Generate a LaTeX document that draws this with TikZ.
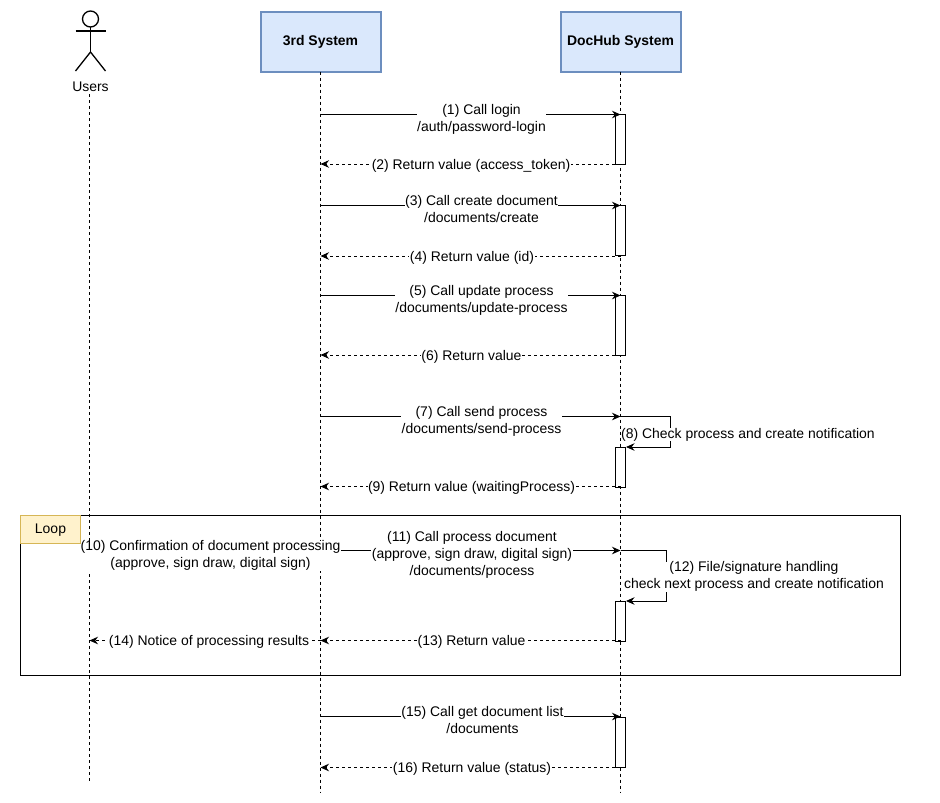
\documentclass[tikz,border=0pt]{standalone}
\usepackage{fontspec}
\setmainfont{Liberation Sans}
\usetikzlibrary{arrows.meta}
\definecolor{bluefill}{HTML}{DAE8FC}
\definecolor{bluestroke}{HTML}{6C8EBF}
\definecolor{yelfill}{HTML}{FFF2CC}
\definecolor{yelstroke}{HTML}{D6B656}
\tikzset{
  x=1pt,y=-1pt,
  every node/.style={font=\fontsize{13.95}{17}\selectfont,inner sep=0pt,outer sep=0pt},
  sysbox/.style={draw=bluestroke,fill=bluefill,line width=2pt,minimum width=120pt,minimum height=60pt,font=\fontsize{13.95}{17}\selectfont\bfseries},
  life/.style={dash pattern=on 3pt off 3pt,line width=0.9pt},
  call/.style={line width=0.9pt,-{Stealth[length=8.5pt,width=7.5pt]}},
  ret/.style={line width=0.9pt,dash pattern=on 3pt off 3pt,-{Stealth[length=8.5pt,width=7.5pt]}},
  act/.style={draw,fill=white,line width=0.9pt,minimum width=10pt},
  lab/.style={fill=white,align=center,inner xsep=0.5pt,inner ysep=0pt},
  stick/.style={line width=1.3pt}
}
\begin{document}
\begin{tikzpicture}
\useasboundingbox (0,0) rectangle (940,803);
\fill[white] (0,0) rectangle (940,803);
% frame
\node[draw,line width=0.9pt,minimum width=880pt,minimum height=160pt,anchor=north west] (frame) at (20.5,515.5) {};
% actor
\node[draw,stick,circle,minimum size=16pt] (head) at (90.5,19) {};
\coordinate (hip) at (90.5,52);
\coordinate (armL) at (75.5,31);
\coordinate (armR) at (105.5,31);
\coordinate (legL) at (75.5,71);
\coordinate (legR) at (105.5,71);
\draw[stick] (head.south) -- (hip);
\draw[stick] (armL) -- (armR);
\draw[stick] (legL) -- (hip) -- (legR);
\node (users) at (90.5,86.5) {Users};
% boxes
\node[sysbox] (third) at (320.5,41.5) {3rd System};
\node[sysbox] (doc) at (620.5,41.5) {DocHub System};
% lifelines
\coordinate (uTop) at (89.5,94);
\coordinate (uEnd) at (89.5,782);
\coordinate (tEnd) at (320.5,792);
\coordinate (dEnd) at (620.5,792);
\draw[life] (uTop) -- (uEnd);
\draw[life] (third.south) -- (tEnd);
\draw[life] (doc.south) -- (dEnd);
% activations
\node[act,minimum height=50pt,anchor=north] (a1) at (620.5,114.5) {};
\node[act,minimum height=50pt,anchor=north] (a3) at (620.5,205.5) {};
\node[act,minimum height=60pt,anchor=north] (a5) at (620.5,295.5) {};
\node[act,minimum height=40pt,anchor=north] (a8) at (620.5,447) {};
\node[act,minimum height=40pt,anchor=north] (a12) at (620.5,601) {};
\node[act,minimum height=50pt,anchor=north] (a15) at (620.5,717.5) {};
% helper coordinates
\foreach \n/\y in {1/114.5,2/164,3/205.5,4/256,5/295.5,6/355,7/416.5,9/486.5,11/550.5,13/640.5,15/716.5,16/767.5}{
  \coordinate (t\n) at (320.5,\y);
  \coordinate (d\n) at (620.5,\y);
}
\coordinate (u10) at (89.5,550.5);
\coordinate (u14) at (89.5,640.5);
\coordinate (s8a) at (670.5,416.5);
\coordinate (s8b) at (670.5,447);
\coordinate (s8c) at (626,447);
\coordinate (s12a) at (666.5,550.5);
\coordinate (s12b) at (666.5,601);
\coordinate (s12c) at (626,601);
% connectors
\draw[call] (t1) -- (d1);
\draw[ret] (d2) -- (t2);
\draw[call] (t3) -- (d3);
\draw[ret] (d4) -- (t4);
\draw[call] (t5) -- (d5);
\draw[ret] (d6) -- (t6);
\draw[call] (t7) -- (d7);
\draw[call] (d7) -- (s8a) -- (s8b) -- (s8c);
\draw[ret] (d9) -- (t9);
\draw[call] (u10) -- (t11);
\draw[call] (t11) -- (d11);
\draw[call] (d11) -- (s12a) -- (s12b) -- (s12c);
\draw[ret] (d13) -- (t13);
\draw[ret] (t13) -- (u14);
\draw[call] (t15) -- (d15);
\draw[ret] (d16) -- (t16);
% labels
\node[lab] (l1) at (481.5,119.5) {(1) Call login\\/auth/password-login};
\node[lab] (l2) at (471,165.5) {(2) Return value (access\_token)};
\node[lab] (l3) at (481.5,209.5) {(3) Call create document\\/documents/create};
\node[lab] (l4) at (472,257.5) {(4) Return value (id)};
\node[lab] (l5) at (481.5,300.5) {(5) Call update process\\/documents/update-process};
\node[lab] (l6) at (471.5,356.5) {(6) Return value};
\node[lab] (l7) at (481.5,421.5) {(7) Call send process\\/documents/send-process};
\node[lab] (l8) at (748,434.5) {(8) Check process and create notification};
\node[lab] (l9) at (471.5,488) {(9) Return value (waitingProcess)};
\node[lab] (l10) at (210.5,555.5) {(10) Confirmation of document processing\\(approve, sign draw, digital sign)};
\node[lab] (l11) at (472,554.5) {(11) Call process document\\(approve, sign draw, digital sign)\\/documents/process};
\node[lab] (l12) at (754,576.5) {(12) File/signature handling\\check next process and create notification};
\node[lab] (l13) at (471.5,642) {(13) Return value};
\node[lab] (l14) at (209,642) {(14) Notice of processing results};
\node[lab] (l15) at (482.5,720.5) {(15) Call get document list\\/documents};
\node[lab] (l16) at (472,769) {(16) Return value (status)};
% loop tag
\node[draw=yelstroke,fill=yelfill,line width=0.9pt,minimum width=60pt,minimum height=28pt,anchor=north west] (loop) at (20.5,515.5) {};
\node (looptext) at (50.5,530) {Loop};
\end{tikzpicture}
\end{document}
